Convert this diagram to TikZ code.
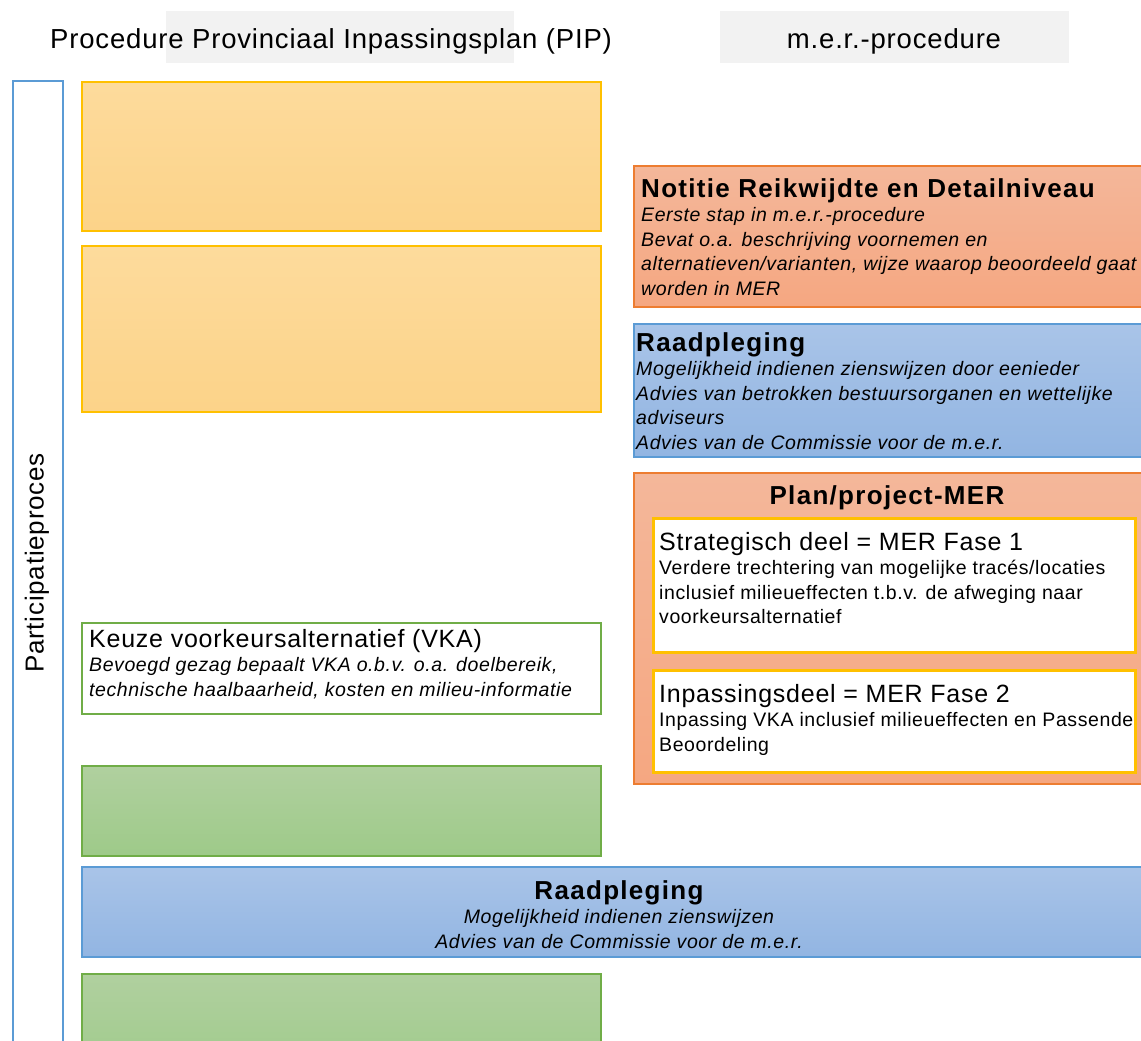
\documentclass[tikz,border=0pt]{standalone}
\usepackage{fontspec}
\setmainfont[LetterSpace=3,BoldFeatures={LetterSpace=5}]{Liberation Sans}
\usetikzlibrary{shadings}
\definecolor{hdrgray}{HTML}{F2F2F2}
\definecolor{yelB}{HTML}{FFC000}
\definecolor{yelT}{HTML}{FDDB9C}
\definecolor{yelBot}{HTML}{FCD389}
\definecolor{salB}{HTML}{ED7D31}
\definecolor{salT}{HTML}{F4B79A}
\definecolor{salBot}{HTML}{F5A781}
\definecolor{bluB}{HTML}{5B9BD5}
\definecolor{bluT}{HTML}{A9C4E8}
\definecolor{bluBot}{HTML}{92B5E2}
\definecolor{grnB}{HTML}{70AD47}
\definecolor{grnT}{HTML}{B0D09F}
\definecolor{grnBot}{HTML}{9ECA89}
\begin{document}
\begin{tikzpicture}[x=1pt,y=-1pt,
  boxbase/.style={rectangle, inner sep=0pt, anchor=north west, line width=1.6pt},
  hdrbox/.style={boxbase, fill=hdrgray, draw=none},
  partbox/.style={boxbase, draw=bluB, fill=white, line width=1.8pt},
  ybox/.style={boxbase, draw=yelB, top color=yelT, bottom color=yelBot},
  sbox/.style={boxbase, draw=salB, top color=salT, bottom color=salBot},
  bbox/.style={boxbase, draw=bluB, top color=bluT, bottom color=bluBot},
  gbox/.style={boxbase, draw=grnB, top color=grnT, bottom color=grnBot},
  wgbox/.style={boxbase, draw=grnB, fill=white},
  wybox/.style={boxbase, draw=yelB, fill=white, line width=2.6pt},
  txt/.style={inner sep=0pt, align=left, anchor=north west, font=\fontsize{19.5}{24.5}\selectfont},
  ttl/.style={inner sep=0pt},
]
\useasboundingbox (0,0) rectangle (1141,1041);
\clip (0,0) rectangle (1141,1041);

% headers
\node[hdrbox, minimum width=348pt, minimum height=52pt] (h1) at (165,10) {};
\node[hdrbox, minimum width=349pt, minimum height=52pt] (h2) at (719,10) {};
\node[ttl, anchor=base west, font=\fontsize{27.5}{30}\selectfont] (h1t) at (50,49) {Procedure Provinciaal Inpassingsplan (PIP)};
\node[ttl, anchor=base, font=\fontsize{27.5}{30}\selectfont] (h2t) at (894,49) {m.e.r.-procedure};

% participation column
\node[partbox, minimum width=50pt, minimum height=1000pt] (part) at (12,80) {};
\node[ttl, rotate=90, font=\fontsize{26}{30}\selectfont] (partt) at (37,563) {Participatieproces};

% left column
\node[ybox, minimum width=519pt, minimum height=149pt] (y1) at (81,81) {};
\node[ybox, minimum width=519pt, minimum height=166pt] (y2) at (81,245) {};
\node[wgbox, minimum width=519pt, minimum height=91pt] (vka) at (81,622) {};
\node[gbox, minimum width=519pt, minimum height=90pt] (g1) at (81,765) {};
\node[gbox, minimum width=519pt, minimum height=110pt] (g2) at (81,973) {};

% right column
\node[sbox, minimum width=540pt, minimum height=141pt] (nrd) at (633,165) {};
\node[bbox, minimum width=540pt, minimum height=133pt] (rp1) at (633,323) {};
\node[sbox, minimum width=540pt, minimum height=311pt] (pmer) at (633,472) {};
\node[wybox, minimum width=482pt, minimum height=134pt] (strat) at (652,517) {};
\node[wybox, minimum width=482pt, minimum height=102pt] (inp) at (652,669) {};

% wide Raadpleging
\node[bbox, minimum width=1100pt, minimum height=90pt] (rp2) at (81,866) {};

% texts
\node[txt] (nrdt) at (641,178) {{\fontsize{26}{24.5}\selectfont\bfseries Notitie Reikwijdte en Detailniveau}\\
\itshape Eerste stap in m.e.r.-procedure\\
\itshape Bevat o.a. beschrijving voornemen en\\
\itshape alternatieven/varianten, wijze waarop beoordeeld gaat\\
\itshape worden in MER};

\node[txt] (rp1t) at (636,332) {{\fontsize{26}{24.5}\selectfont\bfseries Raadpleging}\\
\itshape Mogelijkheid indienen zienswijzen door eenieder\\
\itshape Advies van betrokken bestuursorganen en wettelijke\\
\itshape adviseurs\\
\itshape Advies van de Commissie voor de m.e.r.};

\node[ttl, anchor=base, font=\fontsize{26}{30}\selectfont\bfseries] (pmert) at (887,504) {Plan/project-MER};

\node[txt] (stratt) at (659,532) {{\fontsize{25}{24.5}\selectfont Strategisch deel = MER Fase 1}\\
Verdere trechtering van mogelijke tracés/locaties\\
inclusief milieueffecten t.b.v. de afweging naar\\
voorkeursalternatief};

\node[txt] (inpt) at (659,684) {{\fontsize{25}{24.5}\selectfont Inpassingsdeel = MER Fase 2}\\
Inpassing VKA inclusief milieueffecten en Passende\\
Beoordeling};

\node[txt] (vkat) at (89,629) {{\fontsize{25}{24.5}\selectfont Keuze voorkeursalternatief (VKA)}\\
\itshape Bevoegd gezag bepaalt VKA o.b.v. o.a. doelbereik,\\
\itshape technische haalbaarheid, kosten en milieu-informatie};

\node[txt, align=center, anchor=north] (rp2t) at (619,880) {{\fontsize{26}{24.5}\selectfont\bfseries Raadpleging}\\
\itshape Mogelijkheid indienen zienswijzen\\
\itshape Advies van de Commissie voor de m.e.r.};
\end{tikzpicture}
\end{document}
